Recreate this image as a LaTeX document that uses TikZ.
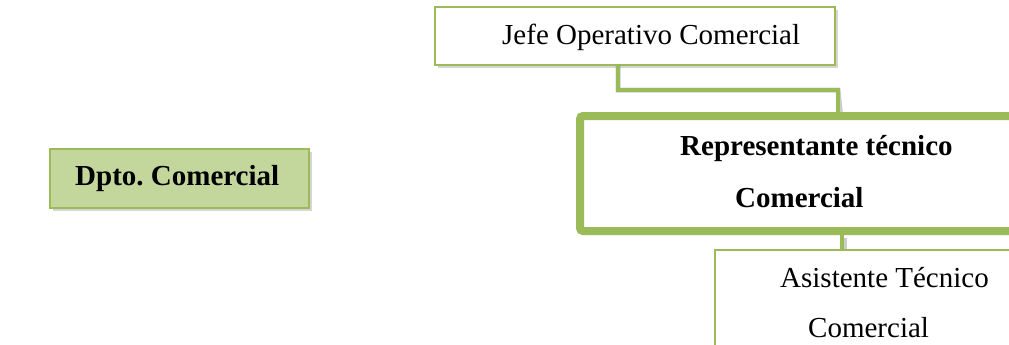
\documentclass[tikz,border=0pt]{standalone}
\usepackage{fontspec}
\setmainfont{Liberation Serif}
\usetikzlibrary{shadows}
\definecolor{leaf}{HTML}{9BBB59}
\definecolor{leaffill}{HTML}{C3D69B}
\frenchspacing
\begin{document}
\begin{tikzpicture}[x=1pt,y=-1pt,
  boxtext/.style={anchor=base west,inner sep=0pt,font=\fontsize{29}{35}\selectfont},
  soft/.style={drop shadow={shadow xshift=3pt,shadow yshift=-3pt,opacity=0.3,fill=black!55}},
  thinbox/.style={draw=leaf,line width=2pt,fill=white,rectangle,inner sep=0pt},
  link/.style={draw=leaf,line width=4.5pt},
  linkshade/.style={draw=black,opacity=0.2,line width=5pt,shift={(2.5pt,-2.5pt)}}]
\useasboundingbox (0,0) rectangle (1009,345);
\clip (0,0) rectangle (1009,345);

% department box on the left
\node[draw=leaf,line width=1.5pt,fill=leaffill,rectangle,inner sep=0pt,soft,
      minimum width=259pt,minimum height=59pt] (dpto) at (179.5,178.5) {};
\node[boxtext,font=\fontsize{29}{35}\selectfont\bfseries] (dptotxt) at (75,185) {Dpto. Comercial};

% top position
\node[thinbox,soft,minimum width=400pt,minimum height=58pt] (jefe) at (635,36) {};
\node[boxtext] (jefetxt) at (502,45) {Jefe Operativo Comercial};

% connector shadows, drawn under the boxes' frames
\coordinate (j1) at (618,90);
\coordinate (j2) at (838,90);
\coordinate (r1) at (842,240);
\draw[linkshade] (jefe.south -| j1) -- (j1) -- (j2) -- (838,112);

% middle position (thick frame running off the right edge)
\node[draw=leaf,line width=8pt,fill=white,rectangle,rounded corners=3pt,inner sep=0pt,soft,
      minimum width=560pt,minimum height=115pt] (rep) at (860,173.5) {};
\node[boxtext,font=\fontsize{29}{35}\selectfont\bfseries] (reptxt1) at (680,155) {Representante técnico};
\node[boxtext,font=\fontsize{29}{35}\selectfont\bfseries] (reptxt2) at (735,207) {Comercial};

% bottom position
\draw[linkshade] (842,235) -- (842,250);
\node[thinbox,minimum width=400pt,minimum height=160pt] (asis) at (915,330) {};
\node[boxtext] (asistxt1) at (780,287) {Asistente Técnico};
\node[boxtext] (asistxt2) at (808,337) {Comercial};

% connectors
\draw[link] (jefe.south -| j1) -- (j1) -- (j2) -- (rep.north -| j2);
\draw[link] (rep.south -| r1) -- (asis.north -| r1);
\end{tikzpicture}
\end{document}
